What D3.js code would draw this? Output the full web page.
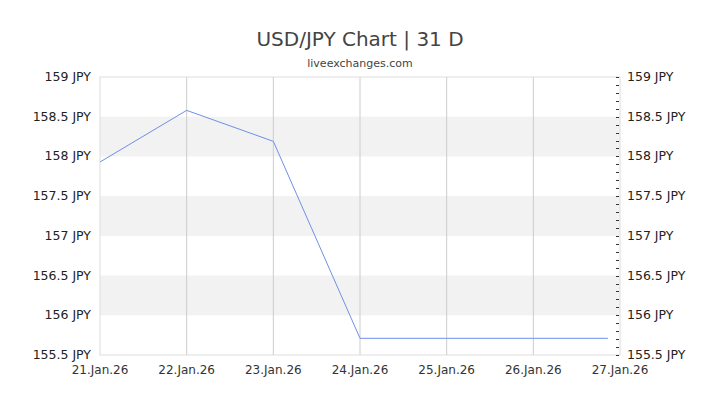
<!DOCTYPE html>
<html><head><meta charset="utf-8">
<script src="https://cdn.jsdelivr.net/npm/d3@7"></script>
<style>body{margin:0;background:#fff}text{font-family:"DejaVu Sans",sans-serif}</style>
</head><body><svg id="c" width="720" height="405"></svg>
<script>
const dateLabels=["21.Jan.26","22.Jan.26","23.Jan.26","24.Jan.26","25.Jan.26","26.Jan.26","27.Jan.26"];
const seriesX=[0,1,2,3,4,5,5.86];
const seriesY=[157.93,158.58,158.19,155.71,155.71,155.71,155.71];
const yTicks=[155.5,156,156.5,157,157.5,158,158.5,159];
const svg=d3.select("#c");
const L=100,R=620,T=77,B=355;
const x=d3.scaleLinear().domain([0,6]).range([L,R]);
const y=d3.scaleLinear().domain([155.5,159]).range([B,T]);
[[158,158.5],[157,157.5],[156,156.5]].forEach(b=>svg.append("rect").attr("x",L).attr("width",R-L).attr("y",y(b[1])).attr("height",y(b[0])-y(b[1])).attr("fill","#f2f2f2"));
dateLabels.forEach((d,i)=>{if(i>0&&i<6)svg.append("line").attr("x1",x(i)).attr("x2",x(i)).attr("y1",T).attr("y2",B).attr("stroke","#ccc");});
svg.append("rect").attr("x",L).attr("y",T).attr("width",R-L).attr("height",B-T).attr("fill","none").attr("stroke","#ddd");
d3.range(155.5,159.001,0.1).forEach(v=>svg.append("line").attr("x1",R-4).attr("x2",R-1).attr("y1",Math.round(y(v))+0.5).attr("y2",Math.round(y(v))+0.5).attr("stroke","#333"));
svg.append("path").datum(seriesX.map((v,i)=>[v,seriesY[i]])).attr("fill","none").attr("stroke","#6f8fe8").attr("stroke-width",1)
 .attr("d",d3.line().x(d=>x(d[0])).y(d=>y(d[1])));
const fmt=v=>(+v.toFixed(1)).toString()+" JPY";
yTicks.forEach(v=>{
 svg.append("text").attr("x",91).attr("y",y(v)+4).attr("text-anchor","end").attr("font-size",12.5).attr("fill","#222").text(fmt(v));
 svg.append("text").attr("x",627).attr("y",y(v)+4).attr("font-size",12.5).attr("fill","#222").text(fmt(v));
});
dateLabels.forEach((d,i)=>svg.append("text").attr("x",x(i)).attr("y",374).attr("text-anchor","middle").attr("font-size",12).attr("fill","#333").text(d));
svg.append("text").attr("x",360).attr("y",46).attr("text-anchor","middle").attr("font-size",20).attr("fill","#444").text("USD/JPY Chart | 31 D");
svg.append("text").attr("x",360).attr("y",67).attr("text-anchor","middle").attr("font-size",11).attr("fill","#444").text("liveexchanges.com");
</script></body></html>
